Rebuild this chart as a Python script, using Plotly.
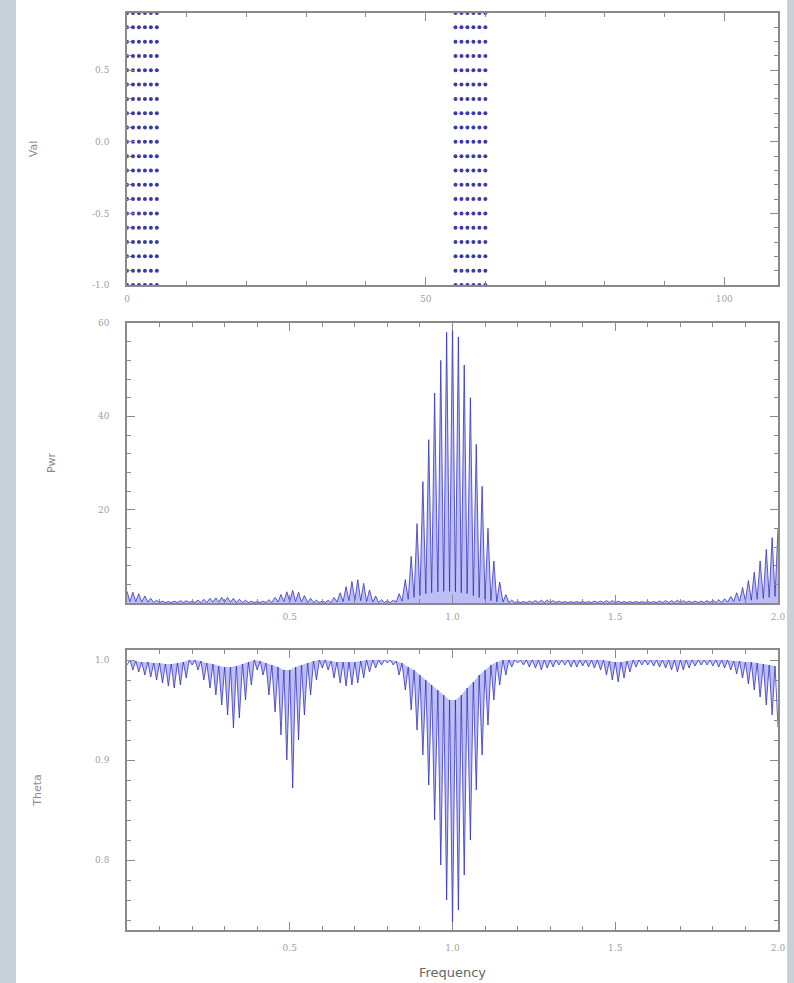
import plotly.graph_objects as go

# ---------------- data ----------------
# top panel: sample times and values
val_x = [0, 1, 2, 3, 4, 5, 55, 56, 57, 58, 59, 60]
val_y = [-1.0, -0.9, -0.8, -0.7, -0.6, -0.5, -0.4, -0.3, -0.2, -0.1,
         0.0, 0.1, 0.2, 0.3, 0.4, 0.5, 0.6, 0.7, 0.8, 0.9]

# frequency samples (peaks on even indices, troughs on odd indices)
freq = [
    0.000, 0.009, 0.018, 0.027, 0.036, 0.045, 0.055, 0.064, 0.073, 0.082, 0.091,
    0.100, 0.109, 0.118, 0.127, 0.136, 0.145, 0.155, 0.164, 0.173, 0.182, 0.191,
    0.200, 0.209, 0.218, 0.227, 0.236, 0.245, 0.255, 0.264, 0.273, 0.282, 0.291,
    0.300, 0.309, 0.318, 0.327, 0.336, 0.345, 0.355, 0.364, 0.373, 0.382, 0.391,
    0.400, 0.409, 0.418, 0.427, 0.436, 0.445, 0.455, 0.464, 0.473, 0.482, 0.491,
    0.500, 0.509, 0.518, 0.527, 0.536, 0.545, 0.555, 0.564, 0.573, 0.582, 0.591,
    0.600, 0.609, 0.618, 0.627, 0.636, 0.645, 0.655, 0.664, 0.673, 0.682, 0.691,
    0.700, 0.709, 0.718, 0.727, 0.736, 0.745, 0.755, 0.764, 0.773, 0.782, 0.791,
    0.800, 0.809, 0.818, 0.827, 0.836, 0.845, 0.855, 0.864, 0.873, 0.882, 0.891,
    0.900, 0.909, 0.918, 0.927, 0.936, 0.945, 0.955, 0.964, 0.973, 0.982, 0.991,
    1.000, 1.009, 1.018, 1.027, 1.036, 1.045, 1.055, 1.064, 1.073, 1.082, 1.091,
    1.100, 1.109, 1.118, 1.127, 1.136, 1.145, 1.155, 1.164, 1.173, 1.182, 1.191,
    1.200, 1.209, 1.218, 1.227, 1.236, 1.245, 1.255, 1.264, 1.273, 1.282, 1.291,
    1.300, 1.309, 1.318, 1.327, 1.336, 1.345, 1.355, 1.364, 1.373, 1.382, 1.391,
    1.400, 1.409, 1.418, 1.427, 1.436, 1.445, 1.455, 1.464, 1.473, 1.482, 1.491,
    1.500, 1.509, 1.518, 1.527, 1.536, 1.545, 1.555, 1.564, 1.573, 1.582, 1.591,
    1.600, 1.609, 1.618, 1.627, 1.636, 1.645, 1.655, 1.664, 1.673, 1.682, 1.691,
    1.700, 1.709, 1.718, 1.727, 1.736, 1.745, 1.755, 1.764, 1.773, 1.782, 1.791,
    1.800, 1.809, 1.818, 1.827, 1.836, 1.845, 1.855, 1.864, 1.873, 1.882, 1.891,
    1.900, 1.909, 1.918, 1.927, 1.936, 1.945, 1.955, 1.964, 1.973, 1.982, 1.991,
    2.000,
]

# power at fringe maxima (111 values) and between fringes (110 values)
pwr_peak = [
    2.5, 2.3, 2.0, 1.5, 1.0, 0.6, 0.4, 0.3, 0.4, 0.5, 0.5,
    0.4, 0.6, 0.8, 1.0, 1.1, 1.2, 1.2, 1.0, 0.8, 0.6, 0.4,
    0.3, 0.4, 0.7, 1.2, 1.8, 2.4, 2.7, 2.3, 1.6, 1.0, 0.6,
    0.4, 0.6, 1.2, 2.2, 3.5, 4.6, 5.0, 4.2, 2.8, 1.5, 0.7,
    0.5, 0.6, 2.0, 5.0, 10.0, 17.0, 26.0, 35.0, 45.0, 52.0, 58.0,
    60.0, 57.0, 51.0, 44.0, 34.0, 25.0, 16.0, 9.0, 4.5, 1.8, 0.6,
    0.3, 0.3, 0.4, 0.5, 0.6, 0.6, 0.5, 0.4, 0.3, 0.3, 0.3,
    0.3, 0.3, 0.4, 0.4, 0.5, 0.5, 0.4, 0.3, 0.3, 0.3, 0.3,
    0.3, 0.3, 0.4, 0.5, 0.5, 0.6, 0.5, 0.4, 0.4, 0.4, 0.5,
    0.6, 0.7, 0.9, 1.4, 2.2, 3.3, 4.8, 6.6, 9.0, 11.5, 14.0,
    16.0,
]
pwr_trough = [
    0.3, 0.3, 0.2, 0.2, 0.1, 0.1, 0.1, 0.1, 0.1, 0.1, 0.1,
    0.1, 0.1, 0.1, 0.2, 0.2, 0.2, 0.2, 0.1, 0.1, 0.1, 0.1,
    0.1, 0.1, 0.1, 0.2, 0.3, 0.3, 0.3, 0.2, 0.1, 0.1, 0.1,
    0.1, 0.1, 0.2, 0.3, 0.5, 0.6, 0.5, 0.3, 0.2, 0.1, 0.1,
    0.1, 0.2, 0.4, 0.8, 1.2, 1.6, 2.0, 2.2, 2.4, 2.5, 2.5,
    2.4, 2.2, 2.0, 1.6, 1.2, 0.8, 0.5, 0.3, 0.2, 0.1, 0.1,
    0.1, 0.1, 0.1, 0.1, 0.1, 0.1, 0.1, 0.1, 0.1, 0.1, 0.1,
    0.1, 0.1, 0.1, 0.1, 0.1, 0.1, 0.1, 0.1, 0.1, 0.1, 0.1,
    0.1, 0.1, 0.1, 0.1, 0.1, 0.1, 0.1, 0.1, 0.1, 0.1, 0.1,
    0.1, 0.1, 0.2, 0.3, 0.4, 0.5, 0.6, 0.8, 1.0, 1.2, 1.4,
]

# theta at fringe minima (111 values) and between fringes (110 values)
theta_low = [
    0.995, 0.990, 0.988, 0.985, 0.983, 0.980, 0.977, 0.974, 0.972, 0.975, 0.982,
    0.995, 0.990, 0.980, 0.972, 0.965, 0.955, 0.945, 0.932, 0.942, 0.960, 0.975,
    0.990, 0.985, 0.965, 0.948, 0.925, 0.900, 0.872, 0.920, 0.945, 0.965, 0.980,
    0.992, 0.990, 0.982, 0.977, 0.974, 0.975, 0.977, 0.982, 0.988, 0.992, 0.995,
    0.997, 0.995, 0.985, 0.970, 0.950, 0.930, 0.905, 0.875, 0.840, 0.795, 0.760,
    0.735, 0.750, 0.785, 0.820, 0.870, 0.905, 0.935, 0.960, 0.975, 0.985, 0.993,
    0.997, 0.995, 0.993, 0.992, 0.990, 0.992, 0.993, 0.995, 0.995, 0.993, 0.993,
    0.994, 0.993, 0.992, 0.990, 0.985, 0.980, 0.978, 0.982, 0.988, 0.993, 0.995,
    0.995, 0.994, 0.993, 0.992, 0.990, 0.988, 0.990, 0.992, 0.994, 0.995, 0.995,
    0.994, 0.993, 0.992, 0.990, 0.986, 0.982, 0.976, 0.970, 0.963, 0.955, 0.945,
    0.933,
]
theta_high = [
    1.000, 0.999, 0.998, 0.998, 0.997, 0.997, 0.996, 0.996, 0.997, 0.998, 1.000,
    1.000, 0.999, 0.997, 0.996, 0.994, 0.993, 0.993, 0.994, 0.996, 0.998, 1.000,
    0.999, 0.997, 0.995, 0.993, 0.990, 0.990, 0.993, 0.995, 0.997, 0.999, 1.000,
    1.000, 0.999, 0.998, 0.998, 0.998, 0.998, 0.999, 1.000, 1.000, 1.000, 1.000,
    1.000, 0.999, 0.997, 0.993, 0.990, 0.985, 0.980, 0.975, 0.970, 0.965, 0.960,
    0.960, 0.965, 0.972, 0.978, 0.985, 0.990, 0.995, 0.998, 1.000, 1.000, 1.000,
    1.000, 1.000, 1.000, 1.000, 1.000, 1.000, 1.000, 1.000, 1.000, 1.000, 1.000,
    1.000, 1.000, 1.000, 1.000, 0.999, 0.998, 0.998, 0.999, 1.000, 1.000, 1.000,
    1.000, 1.000, 1.000, 1.000, 1.000, 1.000, 1.000, 1.000, 1.000, 1.000, 1.000,
    1.000, 1.000, 1.000, 0.999, 0.999, 0.998, 0.998, 0.997, 0.996, 0.995, 0.994,
]

# ---------------- assemble ----------------
pwr = []
theta = []
for k in range(len(pwr_peak)):
    pwr.append(pwr_peak[k])
    theta.append(theta_low[k])
    if k < len(pwr_trough):
        pwr.append(pwr_trough[k])
        theta.append(theta_high[k])
freq_high = freq[1::2]

pts_x = [x for y in val_y for x in val_x]
pts_y = [y for y in val_y for x in val_x]

LINE = "rgba(45,45,185,0.85)"
FILL = "rgba(110,110,235,0.45)"
FRAME = "#8a8a8a"
TICKF = dict(family="DejaVu Serif", size=9, color="#a0a0a0")
TITLEF = dict(family="DejaVu Sans", size=11, color="#8a8a8a")

fig = go.Figure()
fig.add_trace(go.Scatter(x=pts_x, y=pts_y, mode="markers", xaxis="x", yaxis="y",
                         marker=dict(size=4, color="#3a3aaa"), cliponaxis=False,
                         showlegend=False))
fig.add_trace(go.Scatter(x=freq, y=pwr, mode="lines", xaxis="x2", yaxis="y2",
                         line=dict(color=LINE, width=0.9), fill="tozeroy",
                         fillcolor=FILL, showlegend=False))
# upper envelope of theta (between-fringe values), used as fill boundary
fig.add_trace(go.Scatter(x=freq_high, y=theta_high, mode="lines", xaxis="x3", yaxis="y3",
                         line=dict(width=0, color="rgba(0,0,0,0)"), showlegend=False,
                         hoverinfo="skip"))
fig.add_trace(go.Scatter(x=freq, y=theta, mode="lines", xaxis="x3", yaxis="y3",
                         line=dict(color=LINE, width=0.9), fill="tonexty",
                         fillcolor=FILL, showlegend=False))

W, H = 794, 983
xl, xr = 127 / W, 778 / W


def ydom(top, bot):
    return [1 - bot / H, 1 - top / H]


common_ax = dict(showline=True, linecolor=FRAME, linewidth=1.5, mirror="ticks",
                 ticks="inside", tickcolor=FRAME, showgrid=False, zeroline=False,
                 tickfont=TICKF, automargin=False)
minor_style = dict(ticks="inside", ticklen=4, tickcolor=FRAME)

fig.update_layout(
    width=W, height=H,
    margin=dict(l=0, r=0, t=0, b=0, pad=0, autoexpand=False),
    paper_bgcolor="#c6d1d8",
    plot_bgcolor="white",
    shapes=[dict(type="rect", xref="paper", yref="paper", x0=16 / W, x1=787 / W,
                 y0=0, y1=1, fillcolor="white", line=dict(width=0), layer="below")],
    xaxis=dict(domain=[xl, xr], range=[0, 109], anchor="y",
               tickvals=[0, 50, 100], ticklen=8, ticklabelstandoff=4,
               minor=dict(dtick=10, tick0=0, **minor_style),
               **common_ax),
    yaxis=dict(domain=ydom(13, 285), range=[-1.0, 0.9], anchor="x",
               tickvals=[-1.0, -0.5, 0.0, 0.5], ticktext=["-1.0", "-0.5", "0.0", "0.5"],
               ticklen=8, ticklabelstandoff=14,
               minor=dict(dtick=0.1, tick0=0, **minor_style),
               title=dict(text="Val", font=TITLEF, standoff=52),
               **common_ax),
    xaxis2=dict(domain=[xl, xr], range=[0, 2.0], anchor="y2",
                tickvals=[0.5, 1.0, 1.5, 2.0], ticktext=["0.5", "1.0", "1.5", "2.0"],
                ticklen=8, ticklabelstandoff=4,
                minor=dict(dtick=0.1, tick0=0, **minor_style),
                **common_ax),
    yaxis2=dict(domain=ydom(323, 603), range=[0, 60], anchor="x2",
                tickvals=[20, 40, 60], ticklen=8, ticklabelstandoff=14,
                minor=dict(dtick=4, tick0=0, **minor_style),
                title=dict(text="Pwr", font=TITLEF, standoff=40),
                **common_ax),
    xaxis3=dict(domain=[xl, xr], range=[0, 2.0], anchor="y3",
                tickvals=[0.5, 1.0, 1.5, 2.0], ticktext=["0.5", "1.0", "1.5", "2.0"],
                ticklen=8, ticklabelstandoff=8,
                minor=dict(dtick=0.1, tick0=0, **minor_style),
                title=dict(text="Frequency", font=dict(family="DejaVu Sans", size=13, color="#666"),
                           standoff=16),
                **common_ax),
    yaxis3=dict(domain=ydom(650, 930), range=[0.73, 1.01], anchor="x3",
                tickvals=[0.8, 0.9, 1.0], ticktext=["0.8", "0.9", "1.0"],
                ticklen=8, ticklabelstandoff=14,
                minor=dict(dtick=0.02, tick0=0, **minor_style),
                title=dict(text="Theta", font=TITLEF, standoff=51),
                **common_ax),
)

fig.write_html("out.html", config={"displayModeBar": False},
               post_script="document.body.style.margin='0';")
